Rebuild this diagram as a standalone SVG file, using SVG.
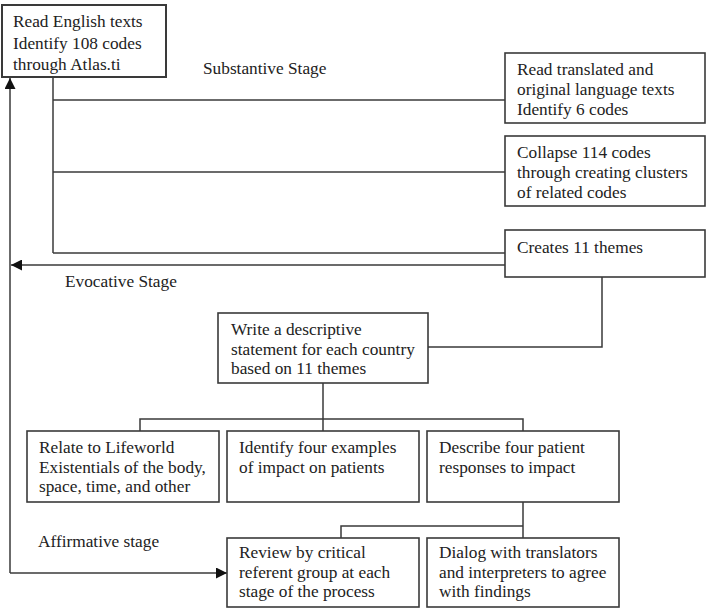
<svg xmlns="http://www.w3.org/2000/svg" width="707" height="609" viewBox="0 0 707 609">
<style>
.box{fill:#fff;stroke:#3a3a3a;stroke-width:1.6}
.ln{fill:none;stroke:#3a3a3a;stroke-width:1.5}
.t{font-family:'Liberation Serif','Times New Roman','DejaVu Serif',serif;font-size:17.3px;fill:#222}
</style>
<defs>
<marker id="ah" viewBox="0 0 10 10" refX="10" refY="5" markerWidth="11" markerHeight="11" markerUnits="userSpaceOnUse" orient="auto">
<path d="M0,0 L10,5 L0,10 Z" fill="#111"/>
</marker>
</defs>
<rect width="707" height="609" fill="#fff"/>
<g id="connectors">
<path class="ln" d="M53,77 V253"/>
<path class="ln" d="M53,100 H505"/>
<path class="ln" d="M53,172 H505"/>
<path class="ln" d="M53,253 H505"/>
<path class="ln" d="M505,265 H11" marker-end="url(#ah)"/>
<path class="ln" d="M602,277 V347 H428"/>
<path class="ln" d="M323,383 V431"/>
<path class="ln" d="M140,431 V419 H523 V431"/>
<path class="ln" d="M523,502 V538"/>
<path class="ln" d="M341,538 V526 H523"/>
<path class="ln" d="M10,573 V78" marker-end="url(#ah)"/>
<path class="ln" d="M10,573 H227" marker-end="url(#ah)"/>
</g>
<g class="t" font-family="Liberation Serif, serif">
<g id="labels">
<text x="203" y="74">Substantive Stage</text>
<text x="65" y="287">Evocative Stage</text>
<text x="38" y="547">Affirmative stage</text>
</g>
<g id="n1">
<rect class="box" x="2" y="5" width="164" height="72" style="stroke-width:2"/>
<text x="13" y="27">Read English texts</text>
<text x="13" y="49">Identify 108 codes</text>
<text x="13" y="70">through Atlas.ti</text>
</g>
<g id="n2">
<rect class="box" x="505" y="53" width="200" height="70"/>
<text x="517" y="75">Read translated and</text>
<text x="517" y="95">original language texts</text>
<text x="517" y="115">Identify 6 codes</text>
</g>
<g id="n3">
<rect class="box" x="505" y="136" width="200" height="70"/>
<text x="517" y="158">Collapse 114 codes</text>
<text x="517" y="178">through creating clusters</text>
<text x="517" y="198">of related codes</text>
</g>
<g id="n4">
<rect class="box" x="505" y="230" width="200" height="47"/>
<text x="517" y="253">Creates 11 themes</text>
</g>
<g id="n5">
<rect class="box" x="218" y="313" width="210" height="70"/>
<text x="231" y="335">Write a descriptive</text>
<text x="231" y="355">statement for each country</text>
<text x="231" y="374">based on 11 themes</text>
</g>
<g id="n6">
<rect class="box" x="27" y="431" width="192" height="71"/>
<text x="39" y="453">Relate to Lifeworld</text>
<text x="39" y="473">Existentials of the body,</text>
<text x="39" y="492">space, time, and other</text>
</g>
<g id="n7">
<rect class="box" x="227" y="431" width="192" height="71"/>
<text x="239" y="453">Identify four examples</text>
<text x="239" y="473">of impact on patients</text>
</g>
<g id="n8">
<rect class="box" x="427" y="431" width="192" height="71"/>
<text x="439" y="453">Describe four patient</text>
<text x="439" y="473">responses to impact</text>
</g>
<g id="n9">
<rect class="box" x="227" y="538" width="192" height="69"/>
<text x="239" y="558">Review by critical</text>
<text x="239" y="578">referent group at each</text>
<text x="239" y="597">stage of the process</text>
</g>
<g id="n10">
<rect class="box" x="427" y="538" width="192" height="69"/>
<text x="439" y="558">Dialog with translators</text>
<text x="439" y="578">and interpreters to agree</text>
<text x="439" y="597">with findings</text>
</g>
</g>
</svg>
